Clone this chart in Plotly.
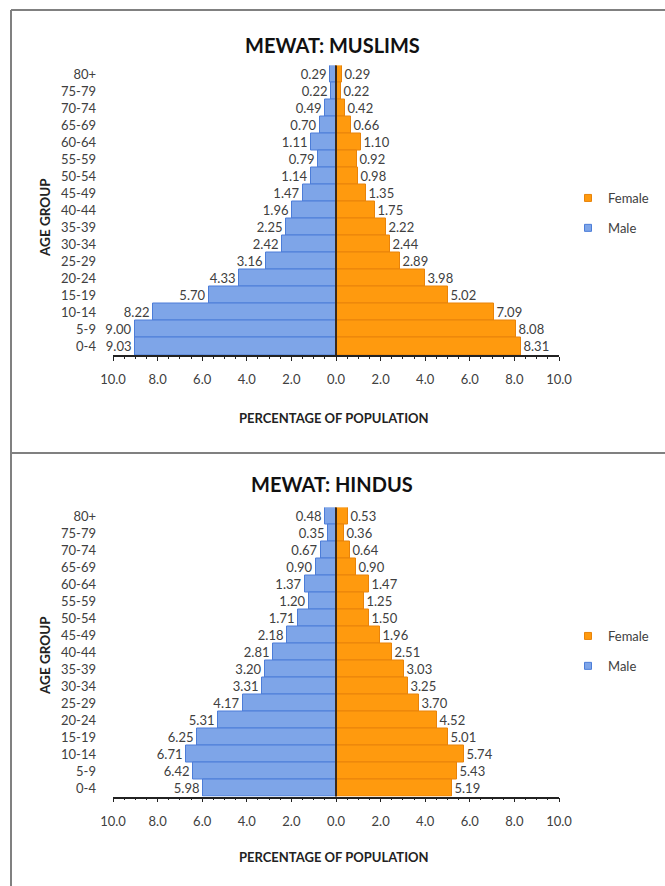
import plotly.graph_objects as go

# ---------------- data (rows listed from top: 80+ down to 0-4) ----------------
age_groups = ["80+", "75-79", "70-74", "65-69", "60-64", "55-59", "50-54", "45-49",
              "40-44", "35-39", "30-34", "25-29", "20-24", "15-19", "10-14", "5-9", "0-4"]

muslim_male = [0.29, 0.22, 0.49, 0.70, 1.11, 0.79, 1.14, 1.47, 1.96, 2.25, 2.42,
               3.16, 4.33, 5.70, 8.22, 9.00, 9.03]
muslim_female = [0.29, 0.22, 0.42, 0.66, 1.10, 0.92, 0.98, 1.35, 1.75, 2.22, 2.44,
                 2.89, 3.98, 5.02, 7.09, 8.08, 8.31]

hindu_male = [0.48, 0.35, 0.67, 0.90, 1.37, 1.20, 1.71, 2.18, 2.81, 3.20, 3.31,
              4.17, 5.31, 6.25, 6.71, 6.42, 5.98]
hindu_female = [0.53, 0.36, 0.64, 0.90, 1.47, 1.25, 1.50, 1.96, 2.51, 3.03, 3.25,
                3.70, 4.52, 5.01, 5.74, 5.43, 5.19]

tick_vals = [-10, -8, -6, -4, -2, 0, 2, 4, 6, 8, 10]
tick_text = ["10.0", "8.0", "6.0", "4.0", "2.0", "0.0", "2.0", "4.0", "6.0", "8.0", "10.0"]

titles = ["MEWAT: MUSLIMS", "MEWAT: HINDUS"]

# ---------------- styling ----------------
W, H = 665, 886
FONT = "Lato"
TXT = "#404040"
MALE_FILL, MALE_LINE = "#7EA5E8", "#4C7DD8"
FEM_FILL, FEM_LINE = "#FF9A0E", "#E8830A"


def px(x):
    return x / W


def py(y):
    return 1 - y / H


panels = [
    dict(male=muslim_male, female=muslim_female, title=titles[0],
         top=65.5, bottom=355.0, title_y=45, xtitle_y=418, legend_y=213, ytitle_y=218),
    dict(male=hindu_male, female=hindu_female, title=titles[1],
         top=507.5, bottom=796.5, title_y=484, xtitle_y=857, legend_y=651, ytitle_y=656),
]

fig = go.Figure()
annotations = []
shapes = []
layout_axes = {}

for i, p in enumerate(panels):
    n = "" if i == 0 else str(i + 1)
    xa, ya = "x" + n, "y" + n
    leg = "legend" + n

    fig.add_trace(go.Bar(
        y=age_groups, x=[-v for v in p["male"]], orientation="h",
        marker=dict(color=MALE_FILL, line=dict(color=MALE_LINE, width=1)),
        text=[f"{v:.2f}" for v in p["male"]], textposition="outside",
        textfont=dict(family=FONT, size=13, color=TXT), constraintext="none",
        cliponaxis=False, xaxis=xa, yaxis=ya, name="Male", showlegend=False,
    ))
    fig.add_trace(go.Bar(
        y=age_groups, x=p["female"], orientation="h",
        marker=dict(color=FEM_FILL, line=dict(color=FEM_LINE, width=1)),
        text=[f"{v:.2f}" for v in p["female"]], textposition="outside",
        textfont=dict(family=FONT, size=13, color=TXT), constraintext="none",
        cliponaxis=False, xaxis=xa, yaxis=ya, name="Female", showlegend=False,
    ))
    # legend entries (small square markers)
    fig.add_trace(go.Scatter(
        x=[None], y=[None], mode="markers", name="Female", legend=leg, legendgroup="f" + n,
        marker=dict(symbol="square", size=7, color=FEM_FILL, line=dict(color=FEM_LINE, width=1)),
        xaxis=xa, yaxis=ya,
    ))
    fig.add_trace(go.Scatter(
        x=[None], y=[None], mode="markers", name="Male", legend=leg, legendgroup="m" + n,
        marker=dict(symbol="square", size=7, color=MALE_FILL, line=dict(color=MALE_LINE, width=1)),
        xaxis=xa, yaxis=ya,
    ))

    layout_axes["xaxis" + n] = dict(
        domain=[px(113), px(559)], anchor=ya, range=[-10, 10], automargin=False,
        tickvals=tick_vals, ticktext=tick_text, ticks="outside", ticklen=4,
        tickcolor="#222222", showline=True, linecolor="#222222", linewidth=1.5,
        showgrid=False, zeroline=False, ticklabelstandoff=8,
        tickfont=dict(family=FONT, size=13, color=TXT),
        minor=dict(dtick=0.5, ticks="outside", ticklen=2, tickcolor="#222222"),
        fixedrange=True,
    )
    layout_axes["yaxis" + n] = dict(
        domain=[py(p["bottom"]), py(p["top"])], anchor=xa, automargin=False,
        type="category", categoryorder="array", categoryarray=age_groups,
        autorange="reversed", showgrid=False, showline=False, zeroline=False,
        ticks="", ticklabelstandoff=16,
        tickfont=dict(family=FONT, size=13, color=TXT), fixedrange=True,
    )
    layout_axes[leg] = dict(
        x=px(568), y=py(p["legend_y"]), xanchor="left", yanchor="middle",
        font=dict(family=FONT, size=13, color=TXT), bgcolor="rgba(0,0,0,0)",
        tracegroupgap=10, itemwidth=30,
    )

    # zero line
    shapes.append(dict(type="line", xref=xa, yref=ya + " domain", x0=0, x1=0, y0=0, y1=1,
                       line=dict(color="#3A2A1C", width=2), layer="above"))

    annotations += [
        dict(text="<b>" + p["title"] + "</b>", x=px(332), y=py(p["title_y"]), xref="paper",
             yref="paper", showarrow=False, font=dict(family=FONT, size=20, color="#111111"),
             xanchor="center", yanchor="middle"),
        dict(text="<b>PERCENTAGE OF POPULATION</b>", x=px(334), y=py(p["xtitle_y"]), xref="paper",
             yref="paper", showarrow=False, font=dict(family=FONT, size=13, color="#222222"),
             xanchor="center", yanchor="middle"),
        dict(text="<b>AGE GROUP</b>", x=px(45), y=py(p["ytitle_y"]), xref="paper", yref="paper",
             showarrow=False, textangle=-90, font=dict(family=FONT, size=13.5, color="#222222"),
             xanchor="center", yanchor="middle"),
    ]

# panel borders
BORDER = dict(color="#808080", width=2)
shapes += [
    dict(type="line", xref="paper", yref="paper", x0=px(11), x1=px(11), y0=py(10), y1=py(886), line=BORDER),
    dict(type="line", xref="paper", yref="paper", x0=px(11), x1=px(665), y0=py(10), y1=py(10), line=BORDER),
    dict(type="line", xref="paper", yref="paper", x0=px(11), x1=px(665), y0=py(453), y1=py(453), line=BORDER),
]

fig.update_layout(
    template="none",
    width=W, height=H, margin=dict(l=0, r=0, t=0, b=0, pad=0, autoexpand=False),
    paper_bgcolor="white", plot_bgcolor="white",
    barmode="overlay", bargap=0,
    annotations=annotations, shapes=shapes,
    **layout_axes,
)

fig.write_html(
    "out.html",
    config={"displayModeBar": False},
    post_script="document.body.style.margin='0';document.body.style.overflow='hidden';",
)
